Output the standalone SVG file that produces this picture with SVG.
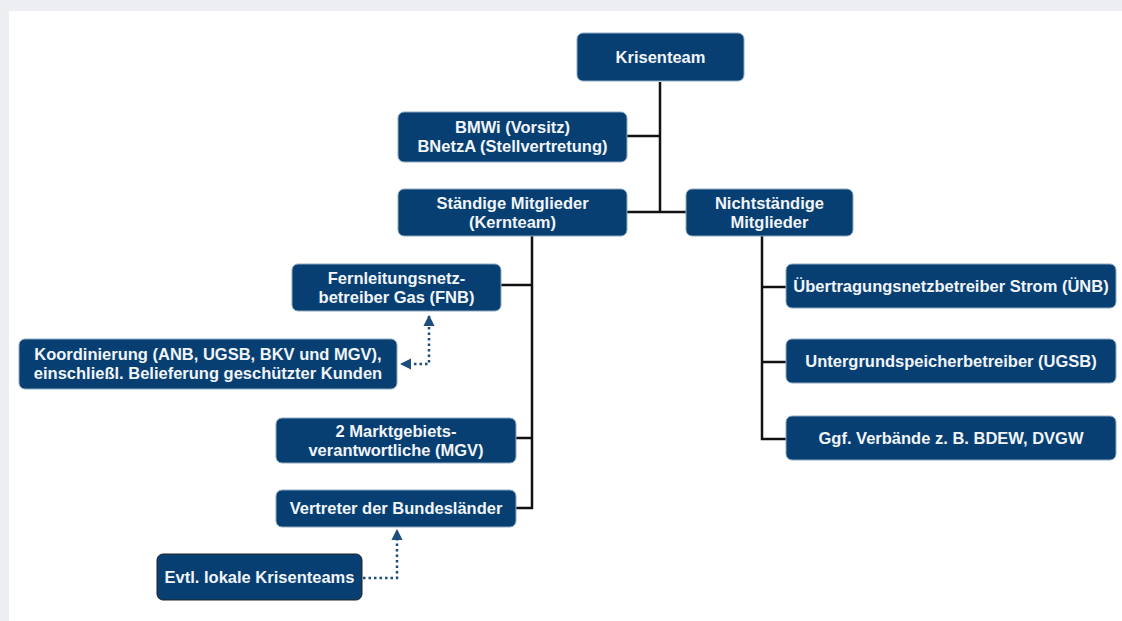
<svg xmlns="http://www.w3.org/2000/svg" width="1122" height="621" viewBox="0 0 1122 621">
<defs>
<style>
.box{fill:#073f73;stroke:#8fa9c2;stroke-width:1}
.dark{stroke:#222}
.t{font-family:"Liberation Sans",Arial,sans-serif;font-weight:bold;font-size:16.5px;fill:#f2f5f8;text-anchor:middle}
.ln{stroke:#111;stroke-width:2.5;fill:none}
.dot{stroke:#1d4d7d;stroke-width:2.5;fill:none;stroke-dasharray:2.5 3}
</style>
<marker id="ah" viewBox="0 0 10 10" refX="9" refY="5" markerWidth="4.5" markerHeight="4.5" orient="auto-start-reverse" markerUnits="strokeWidth">
<path d="M0,0 L10,5 L0,10 z" fill="#1d4d7d"/>
</marker>
</defs>
<rect x="0" y="0" width="1122" height="621" fill="#eceef2"/>
<rect x="9" y="11" width="1113" height="610" fill="#ffffff"/>
<g id="connectors">
<path class="ln" d="M660,82 V212 M627,212 H686 M627,136 H660"/>
<path class="ln" d="M532,236 V508 H516 M501,285 H532 M516,438 H532"/>
<path class="ln" d="M762,236 V439 H786 M762,287 H786 M762,362 H786"/>
<path class="dot" d="M429,316 V364 H401" marker-start="url(#ah)" marker-end="url(#ah)"/>
<path class="dot" d="M363,578 H397 V530" marker-end="url(#ah)"/>
</g>
<g id="krisenteam"><rect class="box" x="577" y="33" width="167" height="48" rx="6"/><text class="t" x="660.5" y="63">Krisenteam</text></g>
<g id="bmwi"><rect class="box" x="398" y="112" width="229" height="50" rx="6"/><text class="t" x="512.5" y="133">BMWi (Vorsitz)</text><text class="t" x="512.5" y="152">BNetzA (Stellvertretung)</text></g>
<g id="staendige"><rect class="box" x="398" y="189" width="229" height="47" rx="6"/><text class="t" x="512.5" y="209">Ständige Mitglieder</text><text class="t" x="512.5" y="228">(Kernteam)</text></g>
<g id="nichtstaendige"><rect class="box" x="686" y="189" width="167" height="47" rx="6"/><text class="t" x="769.5" y="209">Nichtständige</text><text class="t" x="769.5" y="228">Mitglieder</text></g>
<g id="fnb"><rect class="box" x="292" y="264" width="209" height="47" rx="6"/><text class="t" x="396.5" y="284">Fernleitungsnetz-</text><text class="t" x="396.5" y="303">betreiber Gas (FNB)</text></g>
<g id="koordinierung"><rect class="box" x="19" y="339" width="378" height="50" rx="6"/><text class="t" x="208" y="360">Koordinierung (ANB, UGSB, BKV und MGV),</text><text class="t" x="208" y="379">einschließl. Belieferung geschützter Kunden</text></g>
<g id="mgv"><rect class="box" x="276" y="418" width="240" height="45" rx="6"/><text class="t" x="396" y="437">2 Marktgebiets-</text><text class="t" x="396" y="456">verantwortliche (MGV)</text></g>
<g id="bundeslaender"><rect class="box" x="276" y="490" width="240" height="37" rx="6"/><text class="t" x="396" y="514">Vertreter der Bundesländer</text></g>
<g id="lokale"><rect class="box dark" x="157" y="554" width="205" height="46" rx="6"/><text class="t" x="259.5" y="583">Evtl. lokale Krisenteams</text></g>
<g id="uenb"><rect class="box" x="786" y="264" width="330" height="44" rx="6"/><text class="t" x="951" y="292">Übertragungsnetzbetreiber Strom (ÜNB)</text></g>
<g id="ugsb"><rect class="box" x="786" y="339" width="330" height="44" rx="6"/><text class="t" x="951" y="367">Untergrundspeicherbetreiber (UGSB)</text></g>
<g id="verbaende"><rect class="box" x="786" y="416" width="330" height="44" rx="6"/><text class="t" x="951" y="444">Ggf. Verbände z. B. BDEW, DVGW</text></g>
</svg>
